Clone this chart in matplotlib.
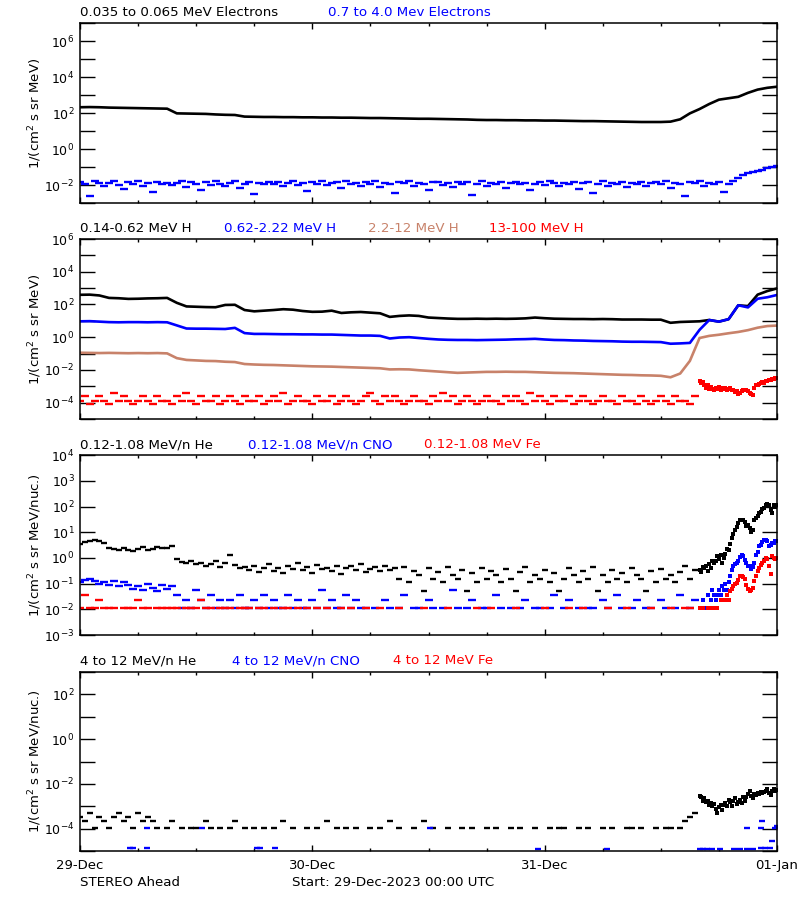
import numpy as np
import matplotlib
matplotlib.use('Agg')
import matplotlib.pyplot as plt
import matplotlib.ticker as mticker

nan = np.nan

# sample times (hours since 29-Dec-2023 00:00)
t_hour = np.arange(73) * 1.0        # hourly, 0..72
t_half = np.arange(145) * 0.5       # half-hourly, 0..72
t_quiet = np.arange(128) * 0.5      # half-hourly, 0..63.5
t_event = 64 + np.arange(49) / 6.0  # 10 min, 64..72

# ---- panel 1: electrons, log10 flux ----
e_low = [2.32, 2.33, 2.32, 2.30, 2.29, 2.28, 2.27, 2.26, 2.25, 2.24,
         1.98, 1.97, 1.96, 1.95, 1.92, 1.90, 1.89,
         1.80, 1.79, 1.78, 1.78, 1.77, 1.77, 1.76, 1.76, 1.75, 1.75, 1.74, 1.74, 1.73, 1.72,
         1.72, 1.71, 1.70, 1.69, 1.68, 1.68, 1.67, 1.66, 1.65, 1.64, 1.62, 1.61, 1.61, 1.60,
         1.60, 1.59, 1.59, 1.58, 1.58, 1.57,
         1.56, 1.55, 1.55, 1.54, 1.53, 1.52, 1.51, 1.50, 1.50, 1.50, 1.52,
         1.65, 1.98, 2.22, 2.50, 2.74, 2.82, 2.90, 3.12, 3.30, 3.40, 3.46]
e_high = [-1.85, -1.95, -2.60, -1.80, -1.90, -2.05, -1.88, -1.75, -1.98, -2.20,
          -1.85, -1.92, -1.78, -2.08, -1.90, -2.40, -1.82, -1.96, -1.87, -2.02,
          -1.90, -1.80, -2.10, -1.86, -1.94, -2.30, -1.84, -1.98, -1.76, -1.92,
          -2.05, -1.88, -1.80, -2.15, -1.93, -1.85, -2.50, -1.89, -1.97, -1.83,
          -1.95, -1.82, -2.07, -1.90, -1.78, -2.00, -1.88, -2.35, -1.84, -1.93,
          -1.80, -2.02, -1.91, -1.86, -2.18, -1.79, -1.95, -1.88, -2.06, -1.84,
          -1.92, -1.80, -2.12, -1.87, -1.96, -2.45, -1.83, -1.90, -1.77, -2.03,
          -1.89, -1.94, -2.25, -1.85, -1.81, -1.98, -1.90, -2.10, -1.84, -1.93,
          -1.86, -2.55, -1.92, -1.79, -2.04, -1.88, -1.95, -1.83, -2.14, -1.90,
          -1.82, -1.97, -1.87, -2.30, -1.93, -1.85, -2.01, -1.78, -1.91, -2.08,
          -1.88, -1.95, -1.81, -2.20, -1.90, -1.86, -2.45, -1.94, -1.80, -2.03,
          -1.89, -1.92, -1.84, -2.12, -1.87, -1.97, -1.82, -2.06, -1.91, -1.85,
          -1.96, -1.80, -2.15, -1.88, -1.93, -2.60, -1.85, -1.90, -1.78, -2.05,
          -1.87, -1.94, -1.83, -2.40, -1.92,
          -1.80, -1.60, -1.45, -1.35, -1.30, -1.20, -1.15, -1.05, -1.00, -0.95]

# ---- panel 2: protons ----
h_low = [2.59, 2.60, 2.55, 2.40, 2.38, 2.34, 2.35, 2.37, 2.38, 2.40,
         2.10, 1.88, 1.86, 1.84, 1.83, 1.97, 1.98, 1.66, 1.58, 1.62,
         1.66, 1.71, 1.68, 1.60, 1.55, 1.56, 1.62, 1.48, 1.52, 1.54,
         1.50, 1.46, 1.24, 1.30, 1.33, 1.30, 1.20, 1.17, 1.14, 1.12,
         1.12, 1.13, 1.12, 1.13, 1.12, 1.13, 1.15, 1.20, 1.16, 1.13,
         1.12, 1.11, 1.11, 1.10, 1.11, 1.10, 1.08, 1.08, 1.08, 1.07,
         1.07, 0.88, 0.93, 0.95, 0.97, 1.05, 0.95, 1.10, 1.95, 1.90,
         2.60, 2.82, 2.98]
h_mid = [0.97, 0.98, 0.95, 0.92, 0.91, 0.92, 0.92, 0.91, 0.92, 0.91,
         0.72, 0.53, 0.52, 0.52, 0.51, 0.50, 0.57, 0.25, 0.20, 0.20,
         0.19, 0.18, 0.18, 0.17, 0.17, 0.16, 0.16, 0.14, 0.12, 0.10,
         0.10, 0.08, -0.08, -0.02, 0.00, -0.05, -0.10, -0.14, -0.16, -0.17,
         -0.17, -0.18, -0.17, -0.16, -0.15, -0.13, -0.12, -0.10, -0.14, -0.17,
         -0.18, -0.20, -0.21, -0.23, -0.24, -0.25, -0.27, -0.28, -0.28, -0.29,
         -0.30, -0.40, -0.38, -0.35, 0.45, 1.05, 0.95, 1.10, 1.95, 1.82,
         2.35, 2.44, 2.58]
h_high = [-0.95, -0.96, -0.97, -0.96, -0.97, -0.98, -0.97, -0.98, -0.97, -0.99,
          -1.28, -1.39, -1.42, -1.45, -1.46, -1.50, -1.52, -1.64, -1.67, -1.69,
          -1.70, -1.72, -1.74, -1.76, -1.78, -1.79, -1.80, -1.82, -1.84, -1.86,
          -1.88, -1.90, -1.97, -1.96, -1.97, -2.02, -2.06, -2.10, -2.14, -2.18,
          -2.16, -2.14, -2.12, -2.12, -2.11, -2.12, -2.12, -2.14, -2.16, -2.18,
          -2.19, -2.20, -2.22, -2.24, -2.26, -2.28, -2.30, -2.31, -2.33, -2.34,
          -2.36, -2.45, -2.22, -1.45, -0.05, 0.08, 0.15, 0.24, 0.32, 0.43,
          0.58, 0.68, 0.71]
h_top = [-3.9, -3.6, -4.1, -3.9, -3.6, -3.9, -4.1, -3.4, -3.9, -3.6, -3.9, -4.1, -3.9, -3.6, -3.9, -4.1,
         -3.6, -3.9, -3.9, -4.1, -3.6, -3.9, -3.4, -3.9, -4.1, -3.6, -3.9, -3.9, -3.6, -4.1, -3.9, -3.6,
         -3.9, -4.1, -3.6, -3.9, -3.9, -3.6, -4.1, -3.9, -3.6, -3.9, -3.4, -4.1, -3.9, -3.6, -3.9, -3.9,
         -4.1, -3.6, -3.9, -3.9, -3.6, -4.1, -3.9, -3.6, -3.9, -4.1, -3.9, -3.6, -3.4, -3.9, -4.1, -3.6,
         -3.9, -3.6, -3.9, -4.1, -3.9, -3.6, -3.9, -3.9, -4.1, -3.6, -3.9, -3.4, -3.9, -3.6, -4.1, -3.9,
         -3.6, -3.9, -4.1, -3.9, -3.6, -3.9, -3.9, -4.1, -3.6, -3.9, -3.6, -3.9, -4.1, -3.4, -3.9, -3.6,
         -3.9, -4.1, -3.6, -3.9, -3.9, -3.6, -4.1, -3.9, -3.6, -3.9, -4.1, -3.9, -3.6, -3.9, -3.9, -4.1,
         -3.6, -3.9, -3.9, -4.1, -3.6, -3.9, -4.1, -3.9, -3.6, -3.9, -4.1, -3.6, -3.9, -3.9, -4.1, -3.6]
h_top_event = [-2.67, -2.80, -2.75, -2.95, -3.10, -2.90, -3.17, -3.05, -3.15, -3.20,
               -3.10, -3.15, -3.05, -3.20, -3.12, -3.18, -3.10, -3.20, -3.15, -3.08,
               -3.20, -3.25, -3.35, -3.30, -3.47, -3.40, -3.30, -3.20, -3.25, -3.20,
               -3.30, -3.40, -3.47, -3.55, -3.10, -2.93, -2.90, -2.85, -2.80, -2.76,
               -2.78, -2.70, -2.65, -2.62, -2.60, -2.55, -2.58, -2.52, -2.50]

# ---- panel 3: 0.12-1.08 MeV/n ions ----
he_low = [0.55, 0.62, 0.68, 0.72, 0.65, 0.58,
          0.40, 0.35, 0.30, 0.38, 0.33, 0.28, 0.36, 0.42, 0.30, 0.35, 0.44, 0.38, 0.40, 0.46,
          -0.05, -0.15, -0.20, -0.10, -0.25, -0.18, -0.30, -0.22, -0.12, -0.35, -0.20, 0.10, -0.28, -0.40,
          -0.35, -0.45, -0.30, -0.55, -0.40, -0.25, -0.50, -0.38, -0.60, -0.30, -0.42, -0.20, -0.48, -0.35,
          -0.57, -0.28, -0.44, -0.38, -0.52, -0.30, -0.62, -0.40, -0.33, -0.47, -0.25, -0.55, -0.42, -0.36,
          -0.50, -0.30, -0.45, -0.38,
          -0.80, -0.35, -0.95, -0.50, -0.65, -1.27, -0.40, -0.80, -0.55, -0.95,
          -0.35, -0.65, -0.80, -0.45, -1.27, -0.60, -0.95, -0.38, -0.80, -0.50,
          -0.65, -0.95, -0.42, -0.80, -1.27, -0.55, -0.35, -0.95, -0.65, -0.80,
          -0.48, -0.95, -0.60, -1.27, -0.80, -0.40, -0.65, -0.95, -0.52, -0.80,
          -0.35, -1.27, -0.65, -0.95, -0.45, -0.80, -0.58, -0.95, -0.38, -0.65,
          -0.80, -1.27, -0.50, -0.95, -0.42, -0.80, -0.65, -0.95, -0.55, -0.30,
          -0.80, -0.45]
he_low_event = [-0.45, -0.55, -0.35, -0.40, -0.30, -0.50, -0.25, -0.40, -0.13, -0.20,
                -0.10, 0.06, -0.05, 0.10, -0.20, 0.00, 0.15, 0.35, 0.30, 0.55,
                0.78, 0.95, 1.10, 1.20, 1.35, 1.49, 1.47, 1.49, 1.40, 1.25,
                1.30, 1.18, 1.03, 1.10, 1.49, 1.55, 1.65, 1.75, 1.81, 1.90,
                1.95, 2.05, 2.11, 2.08, 1.88, 1.75, 2.05, 2.00, 2.05]
cno_low = [-0.95, -0.85, -0.80, -0.90, -1.00, -0.92, -1.05, -0.88, -1.10, -0.95,
           -1.05, -1.20, -1.10, -1.25, -1.00, -1.15, -1.30, -1.05, -1.20, -1.10,
           -1.43, -1.95, -1.62, -1.95, -1.25, -1.62, -1.95, -1.43, -1.95, -1.62,
           -1.95, -1.62, -1.95, -1.43, -1.95, -1.95, -1.62, -1.95, -1.43, -1.95,
           -1.62, -1.95, -1.95, -1.43, -1.95, -1.62, -1.95, -1.95, -1.62, -1.95,
           -1.25, -1.95, -1.62, -1.95, -1.95, -1.43, -1.95, -1.62, -1.95, -1.95,
           nan, -1.95, nan, -1.62, -1.95, nan, -1.95, -1.43, nan, -1.95,
           -1.95, nan, -1.62, -1.95, nan, -1.95, nan, -1.25, -1.95, nan,
           -1.95, -1.62, nan, -1.95, -1.95, nan, -1.43, -1.95, nan, -1.95,
           nan, -1.95, -1.62, nan, -1.95, -1.95, nan, -1.95, -1.43, nan,
           -1.95, -1.62, nan, -1.95, nan, -1.95, -1.95, nan, -1.62, -1.95,
           nan, -1.43, -1.95, nan, -1.95, -1.62, nan, -1.95, -1.95, nan,
           -1.62, -1.95, nan, -1.95, -1.43, nan, -1.95, -1.62]
cno_low_event = [-1.95, nan, -1.62, nan, -1.95, -1.43, nan, -1.62, -1.23, -1.43,
                 -1.62, -1.43, -1.23, -1.43, -1.10, -1.23, -1.00, -1.23, -0.95, -0.69,
                 -0.45, -0.33, -0.25, -0.20, -0.10, 0.05, 0.13, 0.08, -0.07, -0.20,
                 -0.33, -0.30, -0.43, -0.35, -0.20, 0.13, 0.25, 0.45, 0.52, 0.62,
                 0.71, 0.70, 0.68, 0.45, 0.50, 0.58, 0.60, 0.65, 0.65]
fe_low = [-1.95, -1.43, -1.95, -1.95, -1.62, -1.95, -1.95, -1.95, nan, -1.95,
          -1.95, -1.95, -1.62, -1.95, -1.95, nan, -1.95, -1.95, -1.95, -1.95,
          -1.95, nan, -1.95, -1.95, -1.95, -1.62, -1.95, -1.95, nan, -1.95,
          -1.95, -1.95, nan, -1.95, -1.95, -1.95, nan, -1.95, -1.95, nan,
          -1.95, nan, -1.95, -1.95, nan, -1.95, nan, -1.95, nan, -1.95,
          nan, -1.95, nan, nan, -1.95, nan, -1.95, nan, nan, -1.95,
          nan, nan, -1.95, nan, nan, nan, -1.95, nan, nan, nan,
          nan, -1.95, nan, nan, nan, nan, -1.95, nan, nan, nan,
          nan, nan, -1.95, nan, nan, -1.95, nan, nan, nan, nan,
          -1.95, nan, nan, nan, nan, nan, -1.95, nan, nan, nan,
          nan, -1.95, nan, nan, -1.95, nan, nan, nan, nan, -1.95,
          nan, nan, nan, -1.95, nan, nan, nan, nan, -1.95, nan,
          nan, nan, -1.95, nan, nan, -1.95, -1.95, nan]
fe_low_event = [-1.95, nan, -1.95, nan, nan, -1.95, nan, -1.95, nan, -1.95,
                nan, -1.95, nan, -1.62, nan, -1.62, -1.62, -1.43, -1.62, -1.30,
                -1.20, -1.10, -1.00, -0.98, -0.85, -0.72, -0.72, -0.75, -0.80, -1.05,
                -1.21, -1.30, -1.25, -1.15, -0.91, -0.70, -0.52, -0.40, -0.26, -0.20,
                -0.10, 0.00, -0.05, -0.33, -0.62, 0.06, 0.00, -0.05, 0.00]

# ---- panel 4: 4-12 MeV/n ions ----
he_high = [-3.46, -3.68, -3.31, -3.98, -3.46, -3.68, -3.98, -3.46, -3.31, -3.68, -3.46, -3.98,
           -3.31, -3.68, -3.46, -3.68,
           -3.98, nan, -3.98, -3.68, nan, -3.98, nan, -3.98, -3.98, nan, -3.68, -3.98,
           nan, -3.98, nan, -3.98, -3.68, nan, -3.98, nan, -3.98, nan, -3.98, nan,
           -3.98, nan, -3.68, nan, -3.98, nan, nan, -3.98, nan, -3.98, nan, -3.68,
           nan, -3.98, nan, -3.98, nan, -3.98, nan, nan, -3.98, nan, -3.98, nan,
           -3.68, nan, -3.98, nan, nan, -3.98, nan, -3.68, nan, -3.98, nan, nan,
           -3.98, nan, nan, -3.98, nan, -3.98, nan, nan, -3.98, nan, -3.98, nan,
           nan, -3.98, nan, -3.98, nan, nan, -3.98, nan, nan, -3.98, nan, -3.98,
           -3.98, nan, nan, -3.98, nan, -3.98, nan, nan, -3.98, nan, -3.98, nan,
           nan, -3.98, -3.98, nan, -3.98, nan, nan, -3.98, nan, -3.98, -3.98, nan,
           -3.98, -3.68, -3.50, -3.28]
he_high_event = [-2.54, -2.60, -2.75, -2.62, -2.80, -2.75, -2.95, -2.85, -3.01, -2.90,
                 -3.13, -3.28, -3.05, -2.95, -3.15, -2.93, -2.85, -3.00, -2.71, -2.80,
                 -3.01, -2.75, -2.65, -2.90, -2.79, -2.70, -2.85, -2.60, -2.75, -2.57,
                 -2.45, -2.30, -2.55, -2.65, -2.45, -2.49, -2.40, -2.45, -2.35, -2.42,
                 -2.38, -2.30, -2.24, -2.40, -2.50, -2.30, -2.25, -2.30, -2.28]
cno_high_t = [5.2, 5.5, 6.9, 6.9, 12.6, 18.3, 18.6, 20.1, 36.2, 47.3, 54.4, 64.0, 64.4, 64.8,
              65.3, 66.1, 67.6, 68.2, 68.9, 68.9, 69.5, 70.3, 70.3, 70.4, 70.8, 71.3, 71.5,
              71.8, 72.0]
cno_high = [-4.87, -4.87, -4.87, -3.98, -3.98, -4.87, -4.87, -4.87, -3.98, -4.92, -4.92, -4.92,
            -4.92, -4.92, -4.92, -4.92, -4.92, -4.92, -3.98, -4.92, -4.92, -3.98, -4.87, -3.64,
            -4.87, -4.87, -4.54, -3.98, -3.90]

day_labels = ['29-Dec', '30-Dec', '31-Dec', '01-Jan']

BLUE = '#0000ff'
RED = '#ff0000'
BROWN = '#c8826a'

plt.rcParams['font.family'] = 'DejaVu Sans'
plt.rcParams['mathtext.default'] = 'regular'

fig = plt.figure(figsize=(8, 9), dpi=100)


def px(x, y):
    return x / 800.0, 1 - y / 900.0


def setup(ax, lo, hi, labelled, ylabel, bottom=False):
    ax.set_yscale('log')
    ax.set_ylim(10.0 ** lo, 10.0 ** hi)
    ax.yaxis.set_major_locator(mticker.FixedLocator([10.0 ** k for k in range(lo, hi + 1)]))
    ax.yaxis.set_minor_locator(mticker.NullLocator())
    ax.yaxis.set_major_formatter(mticker.FuncFormatter(
        lambda v, p: ('$10^{%d}$' % round(np.log10(v))) if round(np.log10(v)) in labelled else ''))
    ax.set_xlim(0, 72)
    ax.xaxis.set_major_locator(mticker.FixedLocator([0, 24, 48, 72]))
    ax.xaxis.set_minor_locator(mticker.MultipleLocator(6))
    if bottom:
        ax.set_xticklabels(day_labels)
    else:
        ax.set_xticklabels([])
    ax.tick_params(axis='y', which='major', direction='in', length=10.5, width=1,
                   left=True, right=True, labelsize=9, pad=4)
    ax.tick_params(axis='x', which='major', direction='in', length=4, width=1,
                   top=True, bottom=True, labelsize=9.5, pad=6)
    ax.tick_params(axis='x', which='minor', direction='in', length=2.5, width=1,
                   top=True, bottom=True)
    for s in ax.spines.values():
        s.set_linewidth(1.1)
    ax.set_ylabel(ylabel, fontsize=9.5)
    ax.yaxis.set_label_coords(-0.052, 0.5)


def dots(ax, t, v, color, ms=2.4):
    ax.plot(t, 10.0 ** np.asarray(v, dtype=float), 's', color=color, ms=ms, mew=0)


def dashes(ax, t, v, color, ms=5.0):
    ax.plot(t, 10.0 ** np.asarray(v, dtype=float), '_', color=color, ms=ms, mew=1.7)


def line(ax, t, v, color):
    ax.plot(t, 10.0 ** np.asarray(v, dtype=float), '-', color=color, lw=1.9)


unit = '1/(cm$^2$ s sr MeV)'
unit_n = '1/(cm$^2$ s sr MeV/nuc.)'

# panel 1
ax1 = fig.add_axes([0.1, 0.77444, 0.87125, 0.2])
line(ax1, t_hour, e_low, 'black')
dashes(ax1, t_half, e_high, BLUE, ms=6)
setup(ax1, -3, 7, [-2, 0, 2, 4, 6], unit)

# panel 2
ax2 = fig.add_axes([0.1, 0.53444, 0.87125, 0.2])
line(ax2, t_hour, h_low, 'black')
line(ax2, t_hour, h_mid, BLUE)
line(ax2, t_hour, h_high, BROWN)
dashes(ax2, t_quiet, h_top, RED, ms=6)
dots(ax2, t_event, h_top_event, RED)
setup(ax2, -5, 6, [-4, -2, 0, 2, 4, 6], unit)

# panel 3
ax3 = fig.add_axes([0.1, 0.29444, 0.87125, 0.19967])
dashes(ax3, t_quiet, he_low, 'black', ms=4.5)
dots(ax3, t_event, he_low_event, 'black')
dashes(ax3, t_quiet, cno_low, BLUE, ms=5.5)
dots(ax3, t_event, cno_low_event, BLUE)
dashes(ax3, t_quiet, fe_low, RED, ms=5.5)
dots(ax3, t_event, fe_low_event, RED)
setup(ax3, -3, 4, [-3, -2, -1, 0, 1, 2, 3, 4], unit_n)

# panel 4
ax4 = fig.add_axes([0.1, 0.05444, 0.87125, 0.19889])
dashes(ax4, t_quiet, he_high, 'black', ms=5)
dots(ax4, t_event, he_high_event, 'black')
dashes(ax4, cno_high_t, cno_high, BLUE, ms=5)
setup(ax4, -5, 3, [-4, -2, 0, 2], unit_n, bottom=True)

# channel titles
titles = [
    (80, 13, '0.035 to 0.065 MeV Electrons', 'black'),
    (328, 13, '0.7 to 4.0 Mev Electrons', BLUE),
    (80, 229, '0.14-0.62 MeV H', 'black'),
    (224, 229, '0.62-2.22 MeV H', BLUE),
    (368, 229, '2.2-12 MeV H', BROWN),
    (489, 229, '13-100 MeV H', RED),
    (80, 445, '0.12-1.08 MeV/n He', 'black'),
    (248, 445, '0.12-1.08 MeV/n CNO', BLUE),
    (424, 445, '0.12-1.08 MeV Fe', RED),
    (80, 661, '4 to 12 MeV/n He', 'black'),
    (232, 661, '4 to 12 MeV/n CNO', BLUE),
    (393, 661, '4 to 12 MeV Fe', RED),
]
for x, y, s, c in titles:
    fig.text(*px(x, y), s, color=c, fontsize=9.6, ha='left', va='center')

fig.text(*px(80, 882), 'STEREO Ahead', fontsize=9.6, ha='left', va='center')
fig.text(*px(292, 882), 'Start: 29-Dec-2023 00:00 UTC', fontsize=9.6, ha='left', va='center')

fig.savefig('out.png', dpi=100, facecolor='white')
